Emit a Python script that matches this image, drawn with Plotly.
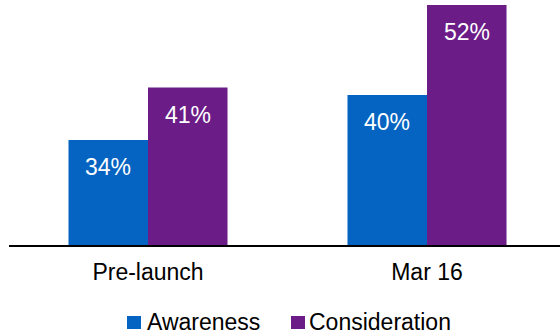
import plotly.graph_objects as go

# Survey results by wave
categories = ["Pre-launch", "Mar 16"]
series_names = ["Awareness", "Consideration"]
awareness = [34, 40]
consideration = [41, 52]
series_values = [awareness, consideration]
series_colors = ["#0563C1", "#6B1C87"]
label_suffix = "%"

W, H = 560, 334
ML, MR, MT, MB = 9, 0, 0, 89
plot_w = W - ML - MR
plot_h = H - MT - MB
px_per_unit = 7.5
y_min = 20
y_max = y_min + plot_h / px_per_unit

# category axis: centres at 148 px and 427 px
cat_step = 279
x_lo = -(148 - ML) / cat_step
x_hi = x_lo + plot_w / cat_step

FONT = "Liberation Sans, Arial, sans-serif"
fig = go.Figure()
bar_frac = 0.285  # bar width in category units
for i, (name, vals, col) in enumerate(zip(series_names, series_values, series_colors)):
    fig.add_trace(go.Bar(
        x=categories, y=vals, name=name, marker_color=col,
        marker_line_width=0, showlegend=False,
    ))
    offset = (i - 0.5) * bar_frac
    for c, v in enumerate(vals):
        fig.add_annotation(
            x=c + offset, y=v, xref="x", yref="y",
            text=f"{v}{label_suffix}", showarrow=False,
            yanchor="middle", yshift=-27,
            font=dict(family=FONT, size=23, color="white"),
        )

# legend row
def px_x(p):
    return (p - ML) / plot_w

def px_y(p):
    return (MT + plot_h - p) / plot_h

legend_items = [(127, 146), (291, 308)]
for (sq_x, tx_x), name, col in zip(legend_items, series_names, series_colors):
    fig.add_shape(type="rect", xref="paper", yref="paper",
                  x0=px_x(sq_x), x1=px_x(sq_x + 14), y0=px_y(329), y1=px_y(316),
                  fillcolor=col, line_width=0)
    fig.add_annotation(x=px_x(tx_x), y=px_y(322), xref="paper", yref="paper",
                       text=name, showarrow=False, xanchor="left", yanchor="middle",
                       xshift=-1, font=dict(family=FONT, size=23, color="black"))

fig.update_layout(
    width=W, height=H,
    margin=dict(l=ML, r=MR, t=MT, b=MB, pad=0),
    paper_bgcolor="white", plot_bgcolor="white",
    barmode="group", bargap=1 - 2 * bar_frac, bargroupgap=0,
    showlegend=False,
    font=dict(family=FONT, size=23, color="black"),
)
fig.update_xaxes(
    type="category", range=[x_lo, x_hi], showgrid=False,
    showline=True, linecolor="black", linewidth=2,
    ticks="", ticklabelstandoff=5,
    tickfont=dict(size=23, family=FONT, color="black"),
)
fig.update_yaxes(range=[y_min, y_max], visible=False, showgrid=False, zeroline=False)

fig.write_html("out.html")
